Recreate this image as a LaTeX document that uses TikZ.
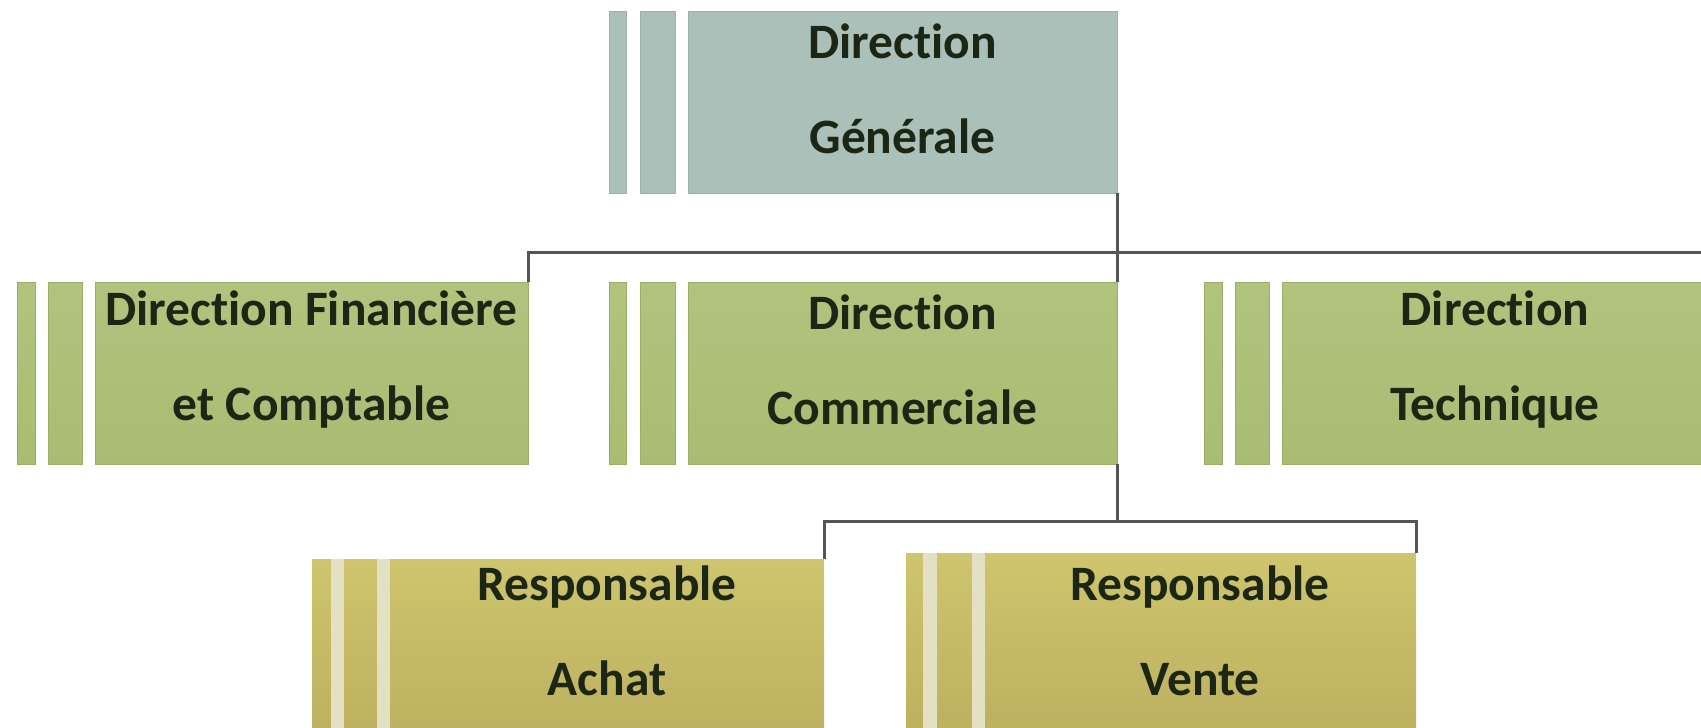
\documentclass[tikz,border=0pt]{standalone}
\usepackage{fontspec}
\setmainfont{Carlito}[RawFeature={-liga;-clig;-calt;-dlig}]
\definecolor{dgc}{RGB}{171,192,184}
\definecolor{grc}{RGB}{176,196,126}
\definecolor{grb}{RGB}{168,188,114}
\definecolor{ylt}{RGB}{206,197,110}
\definecolor{ylb}{RGB}{186,174,94}
\definecolor{pale}{RGB}{228,224,196}
\definecolor{txtc}{RGB}{28,38,20}
\definecolor{linec}{RGB}{85,85,85}
\begin{document}
\begin{tikzpicture}[x=1pt,y=-1pt,
  rect/.style={inner sep=0pt, outer sep=0pt, anchor=north west, minimum height=182pt},
  dgbox/.style={rect, fill=dgc, draw=dgc!92!black, line width=0.8pt},
  grbox/.style={rect, top color=grc, bottom color=grb, draw=grb!92!black, line width=0.8pt},
  ylbox/.style={rect, top color=ylt, bottom color=ylb, minimum height=200pt},
  palestripe/.style={rect, fill=pale, minimum height=200pt},
  txt/.style={align=center, text=txtc, font=\fontsize{49.5}{95}\selectfont\bfseries, inner sep=0pt},
  conn/.style={draw=linec, line width=3pt}]
\useasboundingbox (0,0) rectangle (1701,728);
\clip (0,0) rectangle (1701,728);

% Direction Generale
\node[dgbox, minimum width=17pt] (dgs1) at (609,11) {};
\node[dgbox, minimum width=35pt] (dgs2) at (640,11) {};
\node[dgbox, minimum width=429pt] (dg) at (688,11) {};
\node[txt] (dgt) at ([yshift=13.5pt]dg.center) {Direction\\Générale};

% Row 2
\node[grbox, minimum width=18pt] (fins1) at (17,282) {};
\node[grbox, minimum width=34pt] (fins2) at (48,282) {};
\node[grbox, minimum width=433pt] (fin) at (95,282) {};
\node[txt] (fint) at ([yshift=13.5pt]fin.center) {Direction Financière\\et Comptable};

\node[grbox, minimum width=17pt] (coms1) at (609,282) {};
\node[grbox, minimum width=35pt] (coms2) at (640,282) {};
\node[grbox, minimum width=429pt] (com) at (688,282) {};
\node[txt] (comt) at ([yshift=13.5pt]com.center) {Direction\\Commerciale};

\node[grbox, minimum width=18pt] (techs1) at (1204,282) {};
\node[grbox, minimum width=34pt] (techs2) at (1235,282) {};
\node[grbox, minimum width=426pt] (tech) at (1282,282) {};
\node[txt] (techt) at ([yshift=13.5pt]tech.center) {Direction\\Technique};

% Row 3
\node[ylbox, minimum width=512pt] (achat) at (312,559) {};
\node[palestripe, minimum width=13pt] (achs1) at (331,559) {};
\node[palestripe, minimum width=13pt] (achs2) at (377,559) {};
\node[txt] (achatt) at (607,631) {Responsable\\Achat};

\node[ylbox, minimum width=510pt] (vente) at (906,553) {};
\node[palestripe, minimum width=14pt] (vens1) at (923,553) {};
\node[palestripe, minimum width=13pt] (vens2) at (972,553) {};
\node[txt] (ventet) at (1200,631) {Responsable\\Vente};

% Connectors
\coordinate (bar1) at (0,252);
\coordinate (bar2) at (0,521);
\draw[conn] (dg.south east) -- (com.north east);
\draw[conn] (fin.north east) -- (fin.north east |- bar1) -- (tech.north east |- bar1) -- (tech.north east);
\draw[conn] (com.south east) -- (com.south east |- bar2);
\draw[conn] (achat.north east) -- (achat.north east |- bar2) -- (vente.north east |- bar2) -- (vente.north east);
\end{tikzpicture}
\end{document}
